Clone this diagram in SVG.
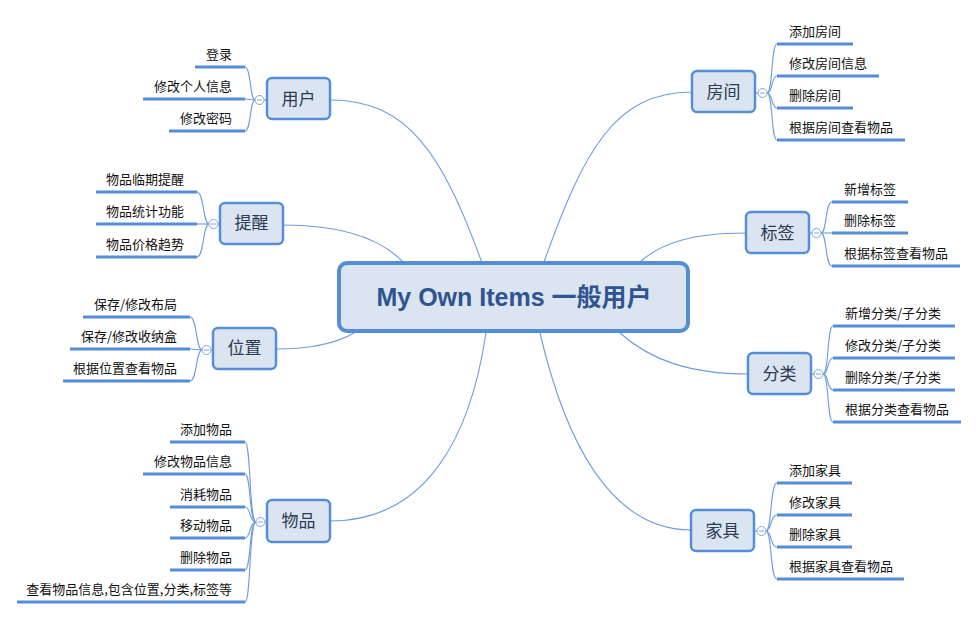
<svg xmlns="http://www.w3.org/2000/svg" width="979" height="619" viewBox="0 0 979 619">
<style>
.main{fill:none;stroke:#6d9de0;stroke-width:1.1}
.br{fill:none;stroke:#6d9de0;stroke-width:1.1}
.ul{stroke:#558ed5;stroke-width:3;stroke-linecap:butt}
.node{fill:#dbe5f1;stroke:#558ed5;stroke-width:2.5}
.center{fill:#dbe5f1;stroke:#558ed5;stroke-width:4}
.nt{font-family:"Noto Sans CJK SC","Liberation Sans",sans-serif;font-size:17px;fill:#2c3a52;text-anchor:middle}
.ct{font-family:"Liberation Sans","Noto Sans CJK SC",sans-serif;font-size:25px;font-weight:bold;fill:#2f5490;text-anchor:middle}
.lt{font-family:"Noto Sans CJK SC","Liberation Sans",sans-serif;font-size:13px;fill:#111}
.r{text-anchor:end}
.col{fill:#fff;stroke:#7ea6dc;stroke-width:1}
.minus{stroke:#7ea6dc;stroke-width:1}
</style>
<g id="connectors">
<path class="main" d="M330,100 C407,100 442,152 482,263"/>
<path class="main" d="M283,225 C340,225 380,238 403,262"/>
<path class="main" d="M276,349 C310,349 335,344 354,333"/>
<path class="main" d="M330,521 C425,521 470,440 486,333"/>
<path class="main" d="M692,92 C615,92 584,150 544,262"/>
<path class="main" d="M746,233 C690,233 660,244 640,262"/>
<path class="main" d="M748,374 C690,374 650,360 620,333"/>
<path class="main" d="M691,530 C610,530 565,440 540,333"/>
<!-- 用户 -->
<line class="br" x1="264" y1="100" x2="267" y2="100"/>
<path class="br" d="M255,100 C250,100 251,67 245,67"/>
<path class="br" d="M255,100 L245,99"/>
<path class="br" d="M255,100 C250,100 251,131 245,131"/>
<!-- 提醒 -->
<line class="br" x1="218" y1="224" x2="220" y2="224"/>
<path class="br" d="M209,224 C203,224 204,192 197,192"/>
<path class="br" d="M209,224 L197,224"/>
<path class="br" d="M209,224 C203,224 204,257 197,257"/>
<!-- 位置 -->
<line class="br" x1="211" y1="350" x2="213" y2="350"/>
<path class="br" d="M202,350 C196,350 197,317 190,317"/>
<path class="br" d="M202,350 L190,349"/>
<path class="br" d="M202,350 C196,350 197,381 190,381"/>
<!-- 物品 -->
<line class="br" x1="265" y1="522" x2="267" y2="522"/>
<path class="br" d="M256,522 C249,522 251,442 245,442"/>
<path class="br" d="M256,522 C249,522 251,474 245,474"/>
<path class="br" d="M256,522 C249,522 251,507 245,507"/>
<path class="br" d="M256,522 C249,522 251,538 245,538"/>
<path class="br" d="M256,522 C249,522 251,570 245,570"/>
<path class="br" d="M256,522 C249,522 251,602 245,602"/>
<!-- 房间 -->
<line class="br" x1="755" y1="93" x2="758" y2="93"/>
<path class="br" d="M767,93 C773,93 771,44 777,44"/>
<path class="br" d="M767,93 C773,93 771,76 777,76"/>
<path class="br" d="M767,93 C773,93 771,108 777,108"/>
<path class="br" d="M767,93 C773,93 771,140 777,140"/>
<!-- 标签 -->
<line class="br" x1="809" y1="233" x2="812" y2="233"/>
<path class="br" d="M821,233 C827,233 825,202 832,202"/>
<path class="br" d="M821,233 L832,233"/>
<path class="br" d="M821,233 C827,233 825,266 832,266"/>
<!-- 分类 -->
<line class="br" x1="811" y1="374" x2="814" y2="374"/>
<path class="br" d="M823,374 C829,374 827,326 833,326"/>
<path class="br" d="M823,374 C829,374 827,358 833,358"/>
<path class="br" d="M823,374 C829,374 827,390 833,390"/>
<path class="br" d="M823,374 C829,374 827,422 833,422"/>
<!-- 家具 -->
<line class="br" x1="754" y1="531" x2="757" y2="531"/>
<path class="br" d="M766,531 C772,531 770,483 777,483"/>
<path class="br" d="M766,531 C772,531 770,515 777,515"/>
<path class="br" d="M766,531 C772,531 770,547 777,547"/>
<path class="br" d="M766,531 C772,531 770,579 777,579"/>
</g>
<g id="center">
<rect class="center" x="339" y="263" width="349" height="68" rx="8"/>
<text class="ct" x="514" y="306">My Own Items 一般用户</text>
</g>
<g id="n-yonghu">
<rect class="node" x="267" y="78" width="63" height="41" rx="5"/>
<text class="nt" x="298.5" y="105">用户</text>
<circle class="col" cx="259.5" cy="100" r="4.5"/><line class="minus" x1="257" y1="100" x2="262" y2="100"/>
<line class="ul" x1="195" y1="67" x2="245" y2="67"/><text class="lt r" x="232" y="59">登录</text>
<line class="ul" x1="143" y1="99" x2="245" y2="99"/><text class="lt r" x="232" y="91">修改个人信息</text>
<line class="ul" x1="169" y1="131" x2="245" y2="131"/><text class="lt r" x="232" y="123">修改密码</text>
</g>
<g id="n-tixing">
<rect class="node" x="220" y="203" width="63" height="41" rx="5"/>
<text class="nt" x="251.5" y="229">提醒</text>
<circle class="col" cx="213.5" cy="224" r="4.5"/><line class="minus" x1="211" y1="224" x2="216" y2="224"/>
<line class="ul" x1="96" y1="192" x2="197" y2="192"/><text class="lt r" x="184" y="184">物品临期提醒</text>
<line class="ul" x1="96" y1="224" x2="197" y2="224"/><text class="lt r" x="184" y="216">物品统计功能</text>
<line class="ul" x1="96" y1="257" x2="197" y2="257"/><text class="lt r" x="184" y="249">物品价格趋势</text>
</g>
<g id="n-weizhi">
<rect class="node" x="213" y="328" width="63" height="41" rx="5"/>
<text class="nt" x="244.5" y="354">位置</text>
<circle class="col" cx="206.5" cy="350" r="4.5"/><line class="minus" x1="204" y1="350" x2="209" y2="350"/>
<line class="ul" x1="83" y1="317" x2="190" y2="317"/><text class="lt r" x="177" y="309">保存/修改布局</text>
<line class="ul" x1="70" y1="349" x2="190" y2="349"/><text class="lt r" x="177" y="341">保存/修改收纳盒</text>
<line class="ul" x1="63" y1="381" x2="190" y2="381"/><text class="lt r" x="177" y="373">根据位置查看物品</text>
</g>
<g id="n-wupin">
<rect class="node" x="267" y="500" width="63" height="42" rx="5"/>
<text class="nt" x="298.5" y="527">物品</text>
<circle class="col" cx="260.5" cy="522" r="4.5"/><line class="minus" x1="258" y1="522" x2="263" y2="522"/>
<line class="ul" x1="170" y1="442" x2="245" y2="442"/><text class="lt r" x="232" y="434">添加物品</text>
<line class="ul" x1="143" y1="474" x2="245" y2="474"/><text class="lt r" x="232" y="466">修改物品信息</text>
<line class="ul" x1="170" y1="507" x2="245" y2="507"/><text class="lt r" x="232" y="499">消耗物品</text>
<line class="ul" x1="170" y1="538" x2="245" y2="538"/><text class="lt r" x="232" y="530">移动物品</text>
<line class="ul" x1="170" y1="570" x2="245" y2="570"/><text class="lt r" x="232" y="562">删除物品</text>
<line class="ul" x1="17" y1="602" x2="245" y2="602"/><text class="lt r" x="232" y="594">查看物品信息,包含位置,分类,标签等</text>
</g>
<g id="n-fangjian">
<rect class="node" x="692" y="71" width="63" height="41" rx="5"/>
<text class="nt" x="723.5" y="98">房间</text>
<circle class="col" cx="762.5" cy="93" r="4.5"/><line class="minus" x1="760" y1="93" x2="765" y2="93"/>
<line class="ul" x1="777" y1="44" x2="853" y2="44"/><text class="lt" x="789" y="36">添加房间</text>
<line class="ul" x1="777" y1="76" x2="879" y2="76"/><text class="lt" x="789" y="68">修改房间信息</text>
<line class="ul" x1="777" y1="108" x2="853" y2="108"/><text class="lt" x="789" y="100">删除房间</text>
<line class="ul" x1="777" y1="140" x2="905" y2="140"/><text class="lt" x="789" y="132">根据房间查看物品</text>
</g>
<g id="n-biaoqian">
<rect class="node" x="746" y="212" width="63" height="41" rx="5"/>
<text class="nt" x="777.5" y="239">标签</text>
<circle class="col" cx="816.5" cy="233" r="4.5"/><line class="minus" x1="814" y1="233" x2="819" y2="233"/>
<line class="ul" x1="832" y1="202" x2="908" y2="202"/><text class="lt" x="844" y="194">新增标签</text>
<line class="ul" x1="832" y1="233" x2="908" y2="233"/><text class="lt" x="844" y="225">删除标签</text>
<line class="ul" x1="832" y1="266" x2="960" y2="266"/><text class="lt" x="844" y="258">根据标签查看物品</text>
</g>
<g id="n-fenlei">
<rect class="node" x="748" y="353" width="63" height="41" rx="5"/>
<text class="nt" x="779.5" y="380">分类</text>
<circle class="col" cx="818.5" cy="374" r="4.5"/><line class="minus" x1="816" y1="374" x2="821" y2="374"/>
<line class="ul" x1="833" y1="326" x2="955" y2="326"/><text class="lt" x="845" y="318">新增分类/子分类</text>
<line class="ul" x1="833" y1="358" x2="955" y2="358"/><text class="lt" x="845" y="350">修改分类/子分类</text>
<line class="ul" x1="833" y1="390" x2="955" y2="390"/><text class="lt" x="845" y="382">删除分类/子分类</text>
<line class="ul" x1="833" y1="422" x2="961" y2="422"/><text class="lt" x="845" y="414">根据分类查看物品</text>
</g>
<g id="n-jiaju">
<rect class="node" x="691" y="510" width="63" height="41" rx="5"/>
<text class="nt" x="722.5" y="537">家具</text>
<circle class="col" cx="761.5" cy="531" r="4.5"/><line class="minus" x1="759" y1="531" x2="764" y2="531"/>
<line class="ul" x1="777" y1="483" x2="852" y2="483"/><text class="lt" x="789" y="475">添加家具</text>
<line class="ul" x1="777" y1="515" x2="852" y2="515"/><text class="lt" x="789" y="507">修改家具</text>
<line class="ul" x1="777" y1="547" x2="852" y2="547"/><text class="lt" x="789" y="539">删除家具</text>
<line class="ul" x1="777" y1="579" x2="904" y2="579"/><text class="lt" x="789" y="571">根据家具查看物品</text>
</g>
</svg>
